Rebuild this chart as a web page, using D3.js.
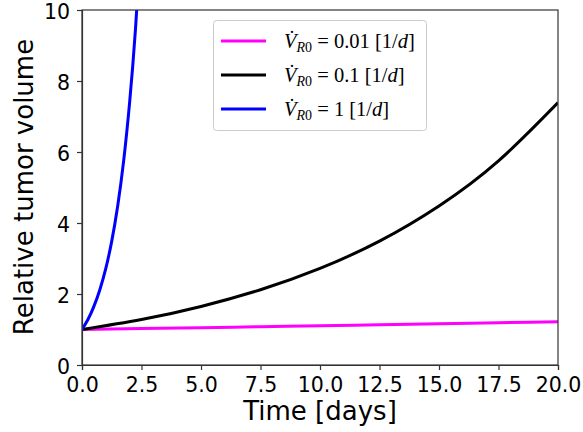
<!DOCTYPE html>
<html><head><meta charset="utf-8">
<script src="https://cdn.jsdelivr.net/npm/d3@7"></script>
<style>body{margin:0;background:#fff}svg{display:block}</style>
</head><body>
<svg id="c" width="583" height="432"></svg>
<script>
// Data
const xTicks = [0, 2.5, 5, 7.5, 10, 12.5, 15, 17.5, 20];
const yTicks = [0, 2, 4, 6, 8, 10];
const seriesLabels = ["0.01", "0.1", "1"];
const seriesColors = ["#ff00ff", "#000000", "#0000ff"];
const tMagenta = [0, 2.5, 5, 7.5, 10, 12.5, 15, 17.5, 20];
const vMagenta = [1.0, 1.025, 1.05, 1.078, 1.105, 1.133, 1.162, 1.191, 1.221];
const tBlack = [0, 2.5, 5, 7.5, 10, 12.5, 15, 17.5, 20];
const vBlack = [1.0, 1.28, 1.65, 2.12, 2.72, 3.49, 4.48, 5.75, 7.39];
const tBlue = [0, 0.25, 0.5, 0.75, 1.0, 1.25, 1.5, 1.75, 2.0, 2.25, 2.5];
const vBlue = [1.0, 1.28, 1.65, 2.12, 2.72, 3.49, 4.48, 5.75, 7.39, 9.49, 12.18];

const svg = d3.select("#c");
const m = {l: 82, r: 558, t: 10, b: 365};
const x = d3.scaleLinear().domain([0, 20]).range([m.l, m.r]);
const y = d3.scaleLinear().domain([0, 10]).range([m.b, m.t]);

svg.append("clipPath").attr("id", "clip").append("rect")
  .attr("x", m.l).attr("y", m.t).attr("width", m.r - m.l).attr("height", m.b - m.t);

const series = [
  {t: tMagenta, v: vMagenta},
  {t: tBlack, v: vBlack},
  {t: tBlue, v: vBlue}
];
const line = d3.line().x(d => x(d[0])).y(d => y(d[1])).curve(d3.curveNatural);
const g = svg.append("g").attr("clip-path", "url(#clip)");
series.forEach((s, i) => {
  g.append("path").datum(s.t.map((t, j) => [t, s.v[j]]))
    .attr("d", line).attr("fill", "none")
    .attr("stroke", seriesColors[i]).attr("stroke-width", 3);
});

// frame
svg.append("rect").attr("x", m.l).attr("y", m.t).attr("width", m.r - m.l).attr("height", m.b - m.t)
  .attr("fill", "none").attr("stroke", "#333").attr("stroke-width", 1.2);

const xAxis = svg.append("g").attr("transform", `translate(0,${m.b})`)
  .call(d3.axisBottom(x).tickValues(xTicks).tickFormat(d3.format(".1f")).tickSize(5).tickPadding(7));
const yAxis = svg.append("g").attr("transform", `translate(${m.l},0)`)
  .call(d3.axisLeft(y).tickValues(yTicks).tickFormat(d3.format("d")).tickSize(5).tickPadding(7));
[xAxis, yAxis].forEach(a => {
  a.select(".domain").attr("stroke", "#333").attr("stroke-width", 1.2);
  a.selectAll(".tick line").attr("stroke", "#333").attr("stroke-width", 1.2);
  a.selectAll(".tick text").attr("fill", "#000").style("font-family", "DejaVu Sans").style("font-size", "20.5px");
});
yAxis.selectAll(".tick text").attr("dy", "0.4em");

svg.append("text").attr("x", (m.l + m.r) / 2).attr("y", 420).attr("text-anchor", "middle")
  .style("font-family", "DejaVu Sans").style("font-size", "26px").text("Time [days]");
svg.append("text").attr("transform", `translate(33,187) rotate(-90)`).attr("text-anchor", "middle")
  .style("font-family", "DejaVu Sans").style("font-size", "26px").text("Relative tumor volume");

// legend
const lg = svg.append("g");
lg.append("rect").attr("x", 213.5).attr("y", 20.5).attr("width", 213).attr("height", 110).attr("rx", 3)
  .attr("fill", "#fff").attr("stroke", "#ccc").attr("stroke-width", 1);
seriesLabels.forEach((lab, i) => {
  const yy = 41 + i * 34;
  lg.append("line").attr("x1", 221).attr("x2", 266).attr("y1", yy).attr("y2", yy)
    .attr("stroke", seriesColors[i]).attr("stroke-width", 3);
  const t = lg.append("text").attr("x", 284).attr("y", yy + 7)
    .style("font-family", "Liberation Serif").style("font-size", "20.5px");
  t.append("tspan").style("font-style", "italic").text("V\u0307");
  t.append("tspan").attr("dy", 4).style("font-size", "14px").style("font-style", "italic").text("R");
  t.append("tspan").style("font-size", "14px").text("0");
  t.append("tspan").attr("dy", -4).text(" = " + lab + " [1/");
  t.append("tspan").style("font-style", "italic").text("d");
  t.append("tspan").text("]");
});
</script>
</body></html>
